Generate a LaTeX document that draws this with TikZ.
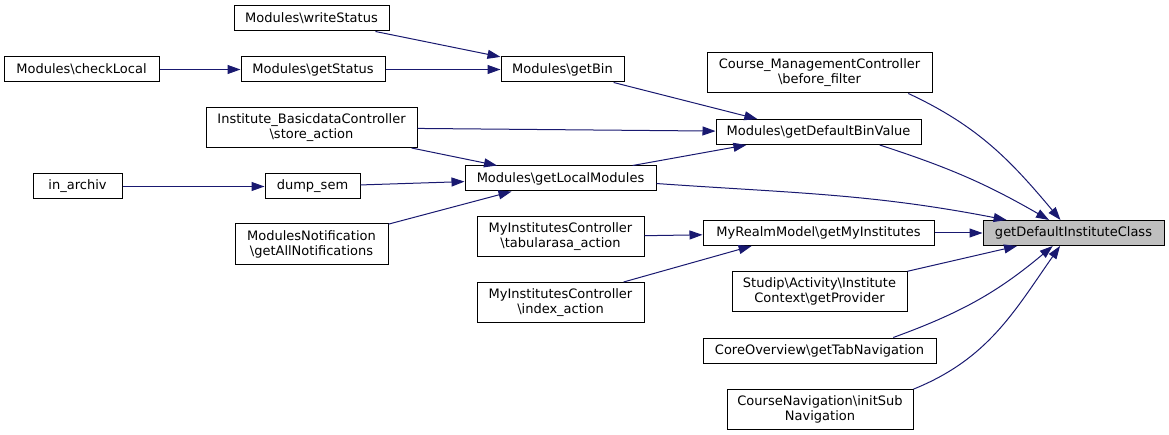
\documentclass[tikz,border=0pt]{standalone}
\usepackage{fontspec}
\setmainfont{DejaVu Sans}
\usetikzlibrary{arrows.meta, positioning}

\definecolor{callblue}{HTML}{191970}
\tikzset{
  fn/.style={draw, line width=1pt, fill=white, inner sep=0pt, minimum height=25pt,
    align=center, font=\fontsize{13}{15}\selectfont},
  fntwo/.style={fn, minimum height=40pt},
  cur/.style={fn, fill=gray!50},
  call/.style={draw=callblue, line width=1pt, -{Triangle[length=13pt,width=9pt]}}
}
\newcommand{\bsl}{\textbackslash}
\newcommand{\calls}[3][]{\draw[call] (#2) to[#1] (#3)}

\begin{document}
\begin{tikzpicture}[x=1pt, y=1pt]
\useasboundingbox (0,0) rectangle (1169,-435);

% the function itself
\node[cur, minimum width=181pt] (target) at (1073.5,-233) {getDefaultInstituteClass};

% direct callers
\node[fntwo, minimum width=225pt] (beforeFilter) at (819.5,-73) {Course\_ManagementController\\\bsl before\_filter};
\node[fn, minimum width=205pt] (getDefaultBinValue) at (818.5,-132) {Modules\bsl getDefaultBinValue};
\node[fn, minimum width=231pt] (getMyInstitutes) [left=48pt of target] {MyRealmModel\bsl getMyInstitutes};
\node[fntwo, minimum width=175pt] (getProvider) at (819.5,-291.5) {Studip\bsl Activity\bsl Institute\\Context\bsl getProvider};
\node[fn, minimum width=233pt] (tabNavigation) at (819.5,-350.5) {CoreOverview\bsl getTabNavigation};
\node[fntwo, minimum width=186pt] (initSubNavigation) at (820,-409) {CourseNavigation\bsl initSub\\Navigation};

% second level
\node[fn, minimum width=191pt] (getLocalModules) at (560.5,-178.5) {Modules\bsl getLocalModules};
\node[fntwo, minimum width=167pt] (tabularasa) at (560.5,-237) {MyInstitutesController\\\bsl tabularasa\_action};
\node[fntwo, minimum width=167pt] (indexAction) at (560.5,-302.5) {MyInstitutesController\\\bsl index\_action};

% third level
\node[fn, minimum width=155pt] (writeStatus) at (311.5,-18.5) {Modules\bsl writeStatus};
\node[fntwo, minimum width=211pt] (storeAction) at (311.5,-127.5) {Institute\_BasicdataController\\\bsl store\_action};
\node[fntwo, minimum width=153pt, minimum height=41pt] (allNotifications) at (311.5,-244.5) {ModulesNotification\\\bsl getAllNotifications};

% rows
\node[fn, minimum width=155pt] (checkLocal) at (81.5,-69.5) {Modules\bsl checkLocal};
\node[fn, minimum width=144pt] (getStatus) [right=81pt of checkLocal] {Modules\bsl getStatus};
\node[fn, minimum width=123pt] (getBin) [right=115pt of getStatus] {Modules\bsl getBin};
\node[fn, minimum width=89pt] (inArchiv) at (77.5,-186.5) {in\_archiv};
\node[fn, minimum width=95pt] (dumpSem) [right=142pt of inArchiv] {dump\_sem};

\calls{checkLocal}{getStatus};
\calls{getStatus}{getBin};
\calls{writeStatus}{getBin};
\calls{getBin}{getDefaultBinValue.168};
\calls{storeAction}{getDefaultBinValue};
\calls{storeAction}{getLocalModules};
\calls{inArchiv}{dumpSem};
\calls{dumpSem}{getLocalModules};
\calls{allNotifications}{getLocalModules};
\calls{getLocalModules}{getDefaultBinValue};
\calls{tabularasa}{getMyInstitutes};
\calls{indexAction.18}{getMyInstitutes.-169};

\calls[out=-4,in=169]{getLocalModules.-3}{target.169};
\calls[out=-18,in=150]{getDefaultBinValue.-12}{target.152};
\calls[out=-25,in=130]{beforeFilter.-13}{target.135};
\calls{getMyInstitutes}{target};
\calls{getProvider}{target};
\calls[out=20,in=-140]{tabNavigation.10}{target.-148};
\calls[out=22,in=-125]{initSubNavigation.12}{target.-136};
\end{tikzpicture}
\end{document}
